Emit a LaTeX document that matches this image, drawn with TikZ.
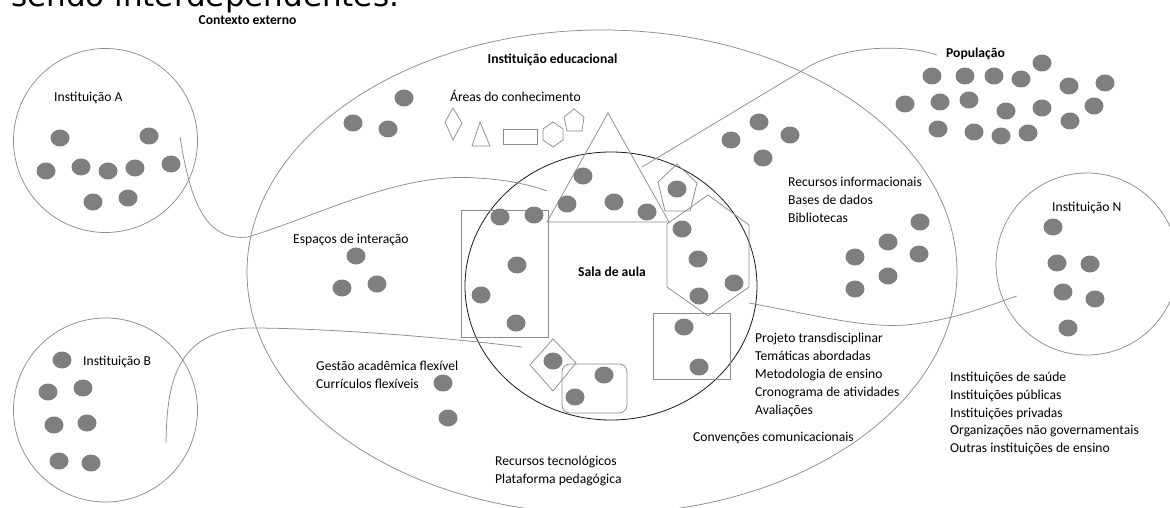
\documentclass[tikz,border=0pt]{standalone}
\usepackage{fontspec}
\setmainfont{Carlito}
\newfontfamily\bigfont{DejaVu Sans}
\usetikzlibrary{shapes.geometric}
\definecolor{dotgray}{RGB}{127,127,127}
\definecolor{linegray}{RGB}{140,140,140}
\definecolor{darkline}{RGB}{25,25,25}
\begin{document}
\begin{tikzpicture}[x=1pt,y=-1pt,
  dot/.style={ellipse,fill=dotgray,minimum width=19pt,minimum height=17pt,inner sep=0pt},
  ring/.style={draw=linegray,line width=0.75pt,inner sep=0pt},
  shp/.style={draw=linegray,line width=0.75pt},
  link/.style={draw=linegray,line width=0.75pt},
  txt/.style={font=\fontsize{13.6}{17.8}\selectfont,inner sep=0pt,anchor=base west},
  ttl/.style={font=\fontsize{13.6}{17.8}\selectfont\bfseries,inner sep=0pt,anchor=base},
]
\useasboundingbox (0,0) rectangle (1170,508);

% heading fragment
\node[font=\bigfont\fontsize{31}{31}\selectfont,inner sep=0pt,anchor=base west] (head) at (11,7) {sendo interdependentes.};

% big containers
\node[ellipse,ring,minimum width=710pt,minimum height=484pt] (inst) at (602,272) {};
\node[ellipse,draw=darkline,line width=0.8pt,minimum width=292pt,minimum height=268pt,inner sep=0pt] (sala) at (611,286) {};
\node[circle,ring,minimum size=184pt] (instA) at (105.5,140.5) {};
\node[circle,ring,minimum size=184pt] (instB) at (105.5,410) {};
\node[circle,ring,minimum size=182pt] (instN) at (1087,264) {};

% connector end points
\coordinate (aS) at (180,137);
\coordinate (aE) at (547,191);
\coordinate (bS) at (166,443);
\coordinate (bE) at (522,347);
\coordinate (nS) at (749,303);
\coordinate (nE) at (1017,296);
\coordinate (pS) at (937,55);
\coordinate (pM) at (800,72);
\coordinate (pE) at (642,167);

\draw[link] (aS) .. controls (190,200) and (205,242) .. (248,237)
  .. controls (320,215) and (400,172) .. (477,178)
  .. controls (510,180) and (530,185) .. (aE);
\draw[link] (bS) .. controls (167,390) and (172,330) .. (250,328)
  .. controls (330,328) and (450,338) .. (bE);
\draw[link] (nS) .. controls (820,316) and (870,330) .. (915,324)
  .. controls (960,318) and (990,305) .. (nE);
\draw[link] (pS) .. controls (905,44) and (840,44) .. (pM) -- (pE);

% small knowledge-area shapes
\draw[shp] (453,108) -- (462,123) -- (453,140) -- (445,122) -- cycle;
\draw[shp] (480,122) -- (490,146) -- (472,146) -- cycle;
\draw[shp] (503,129) rectangle (537,144);
\draw[shp] (553,122) -- (563,129) -- (563,140) -- (553,147) -- (543,140) -- (543,129) -- cycle;
\draw[shp] (574,109) -- (584,117) -- (582,131) -- (567,131) -- (564,117) -- cycle;

% classroom shapes
\draw[shp] (608,113) -- (669,222) -- (547,222) -- cycle;
\draw[shp] (677,164) -- (697,183) -- (690,211) -- (665,211) -- (658,182) -- cycle;
\draw[shp] (667,224) -- (708,195) -- (749,225) -- (749,287) -- (708,316) -- (667,287) -- cycle;
\draw[shp] (461,210) rectangle (548,337);
\draw[shp] (653,313) rectangle (730,379);
\draw[shp] (553,339) -- (576,363) -- (553,391) -- (530,365) -- cycle;
\draw[shp,rounded corners=8pt] (562,364) rectangle (627,413);

% dots
\foreach \x/\y [count=\i] in {60/138,149/136,46/171,81/167,108/171,135/168,171/164,93/202,128/198}
  \node[dot] (a\i) at (\x,\y) {};
\foreach \x/\y [count=\i] in {62/360,48/392,83/388,54/425,87/423,59/461,91/463}
  \node[dot] (b\i) at (\x,\y) {};
\foreach \x/\y [count=\i] in {1053/227,1057/263,1090/264,1063/292,1095/299,1068/328}
  \node[dot] (n\i) at (\x,\y) {};
\foreach \x/\y [count=\i] in {932/76,965/76,994/76,1021/79,1042/63,1069/86,1105/83,905/104,940/102,969/100,1006/111,1042/108,1094/106,938/129,974/132,1001/136,1028/133,1070/121}
  \node[dot] (p\i) at (\x,\y) {};
\foreach \x/\y [count=\i] in {404/98,353/123,388/129,356/256,342/288,377/284,443/383,448/418,731/140,759/122,790/135,763/158,920/222,888/242,855/257,919/254,888/276,855/289}
  \node[dot] (e\i) at (\x,\y) {};
\foreach \x/\y [count=\i] in {583/176,567/204,614/202,647/212,677/189,682/229,698/259,734/283,699/296,500/217,534/215,517/265,481/295,516/323,684/327,699/367,553/361,604/375,575/397}
  \node[dot] (s\i) at (\x,\y) {};

% titles
\node[ttl] (tCtx) at (247.5,25) {Contexto externo};
\node[ttl] (tInst) at (552.5,64) {Instituição educacional};
\node[ttl] (tPop) at (975.5,58) {População};
\node[ttl] (tSala) at (612,276) {Sala de aula};

% labels
\node[txt] (lA) at (54,101.5) {Instituição A};
\node[txt] (lB) at (83,365.5) {Instituição B};
\node[txt] (lN) at (1052,211.5) {Instituição N};
\node[txt] (lAreas) at (450,102) {Áreas do conhecimento};
\node[txt] (lEsp) at (293,243.5) {Espaços de interação};
\node[txt] (lConv) at (693,441) {Convenções comunicacionais};
\foreach \t [count=\k from 0] in {Recursos informacionais,Bases de dados,Bibliotecas}
  \node[txt] (lRec\k) at (788,186.5+17.8*\k) {\t};
\foreach \t [count=\k from 0] in {Gestão acadêmica flexível,Currículos flexíveis}
  \node[txt] (lGes\k) at (316,370.5+17.8*\k) {\t};
\foreach \t [count=\k from 0] in {Recursos tecnológicos,Plataforma pedagógica}
  \node[txt] (lTec\k) at (495,465.5+17.8*\k) {\t};
\foreach \t [count=\k from 0] in {Projeto transdisciplinar,Temáticas abordadas,Metodologia de ensino,Cronograma de atividades,Avaliações}
  \node[txt] (lProj\k) at (755,342.5+17.9*\k) {\t};
\foreach \t [count=\k from 0] in {Instituições de saúde,Instituições públicas,Instituições privadas,Organizações não governamentais,Outras instituições de ensino}
  \node[txt] (lOrg\k) at (950,381.5+17.8*\k) {\t};
\end{tikzpicture}
\end{document}
